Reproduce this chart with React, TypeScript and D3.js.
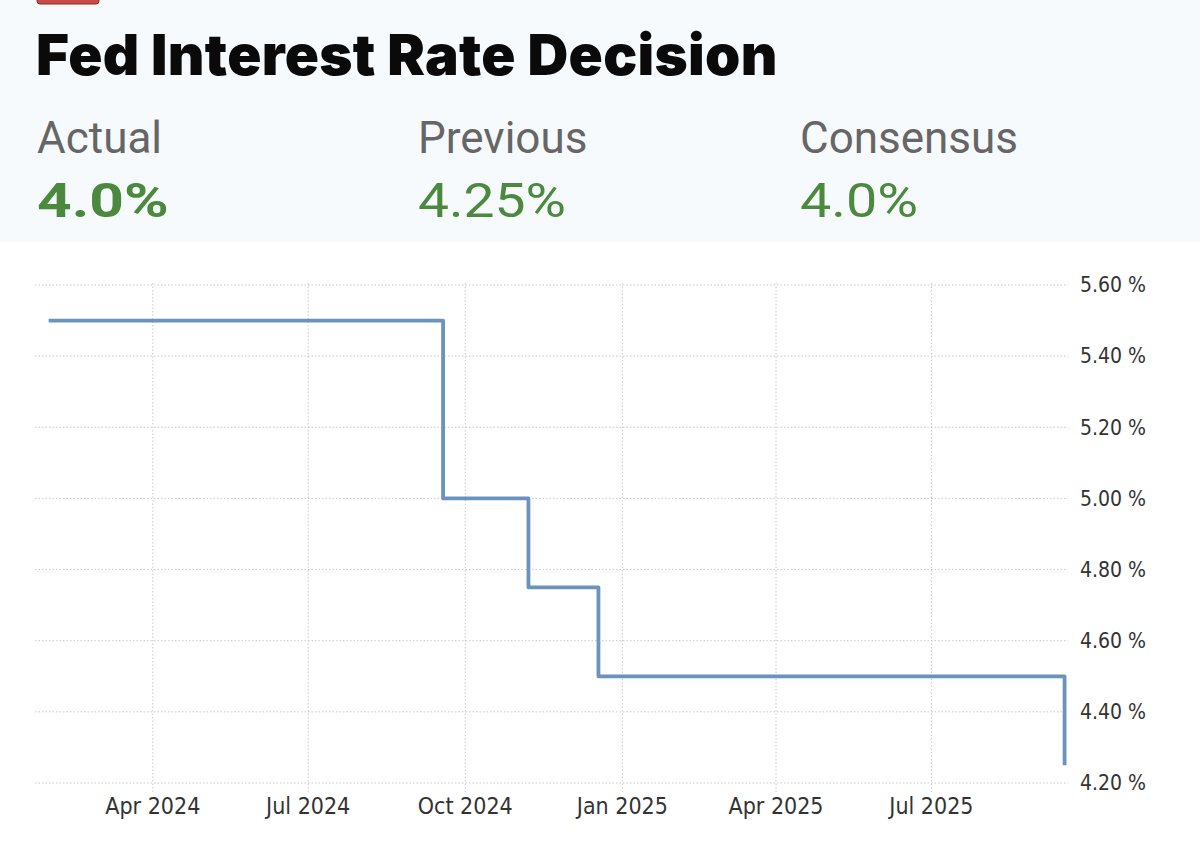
import * as d3 from "d3";

// FOMC decision dates and upper-bound rate (%)
const dates = [
  "2024-01-31", "2024-03-20", "2024-05-01", "2024-06-12", "2024-07-31",
  "2024-09-18", "2024-11-07", "2024-12-18", "2025-01-29", "2025-03-19",
  "2025-05-07", "2025-06-18", "2025-07-30", "2025-09-17",
];
const rates = [5.5, 5.5, 5.5, 5.5, 5.5, 5.0, 4.75, 4.5, 4.5, 4.5, 4.5, 4.5, 4.5, 4.25];

const yTicks = [4.2, 4.4, 4.6, 4.8, 5.0, 5.2, 5.4, 5.6];
const xTicks = ["2024-04-01", "2024-07-01", "2024-10-01", "2025-01-01", "2025-04-01", "2025-07-01"];

const statLabels = ["Actual", "Previous", "Consensus"];
const statValues = ["4.0%", "4.25%", "4.0%"];

const W = 1200;
const H = 851;

export default function App() {
  const parse = d3.utcParse("%Y-%m-%d");
  const data = dates.map((d, i) => ({ date: parse(d)!, rate: rates[i] }));

  const x = d3
    .scaleUtc()
    .domain([parse("2024-01-23")!, parse("2025-09-19")!])
    .range([35, 1068]);
  const y = d3.scaleLinear().domain([4.2, 5.6]).range([783, 285]);

  const line = d3
    .line<{ date: Date; rate: number }>()
    .x((d) => x(d.date))
    .y((d) => y(d.rate))
    .curve(d3.curveStepAfter);

  const fmtX = d3.utcFormat("%b %Y");
  const colX = [37, 418, 800];
  const valueScale = [1.26, 1.15, 1.16]; // values are drawn in a wide face
  const valueWeights = [700, 400, 400];

  return (
    <svg
      width={W}
      height={H}
      style={{ position: "absolute", left: 0, top: 0, display: "block" }}
    >
      <rect x={0} y={0} width={W} height={H} fill="#ffffff" />
      {/* header band */}
      <rect x={0} y={0} width={W} height={242} fill="#f7fafc" />
      <rect x={37} y={-6} width={62} height={10} rx={3} fill="#c94b48" stroke="#8f2b2b" strokeWidth={1} />
      <text
        x={36}
        y={75}
        fontFamily="Inter, 'Noto Sans', sans-serif"
        fontWeight={900}
        fontSize={56.5}
        fill="#0a0a0a"
        letterSpacing={0.3}
      >
        Fed Interest Rate Decision
      </text>
      {statLabels.map((label, i) => (
        <g key={label} transform={`translate(${colX[i]},0)`}>
          <text
            y={153}
            fontFamily="Roboto, 'Noto Sans', sans-serif"
            fontSize={44}
            fill="#666666"
          >
            {label}
          </text>
          <text
            transform={`translate(0,217) scale(${valueScale[i]},1)`}
            fontFamily="Roboto, 'Noto Sans', sans-serif"
            fontSize={48}
            fontWeight={valueWeights[i]}
            fill="#4b8a3e"
          >
            {statValues[i]}
          </text>
        </g>
      ))}

      {/* grid */}
      {yTicks.map((t) => (
        <line
          key={t}
          x1={35}
          x2={1068}
          y1={y(t)}
          y2={y(t)}
          stroke="#c8c8c8"
          strokeWidth={1}
          strokeDasharray="1.5,2"
        />
      ))}
      {xTicks.map((t) => {
        const xx = x(parse(t)!);
        return (
          <line
            key={t}
            x1={xx}
            x2={xx}
            y1={283}
            y2={792}
            stroke="#c8c8c8"
            strokeWidth={1}
            strokeDasharray="1.5,2"
          />
        );
      })}

      {/* line */}
      <path d={line(data) ?? ""} fill="none" stroke="#6b93bd" strokeWidth={3.8} strokeLinejoin="round" />

      {/* y labels */}
      {yTicks.map((t) => (
        <text
          key={t}
          x={1080}
          y={y(t)}
          dy="0.35em"
          fontFamily="'DejaVu Sans Condensed', 'DejaVu Sans', sans-serif"
          fontSize={21}
          fill="#333333"
        >
          {`${t.toFixed(2)} %`}
        </text>
      ))}
      {/* x labels */}
      {xTicks.map((t) => (
        <text
          key={t}
          x={x(parse(t)!)}
          y={814}
          textAnchor="middle"
          fontFamily="'DejaVu Sans Condensed', 'DejaVu Sans', sans-serif"
          fontSize={23}
          fill="#333333"
        >
          {fmtX(parse(t)!)}
        </text>
      ))}
    </svg>
  );
}
